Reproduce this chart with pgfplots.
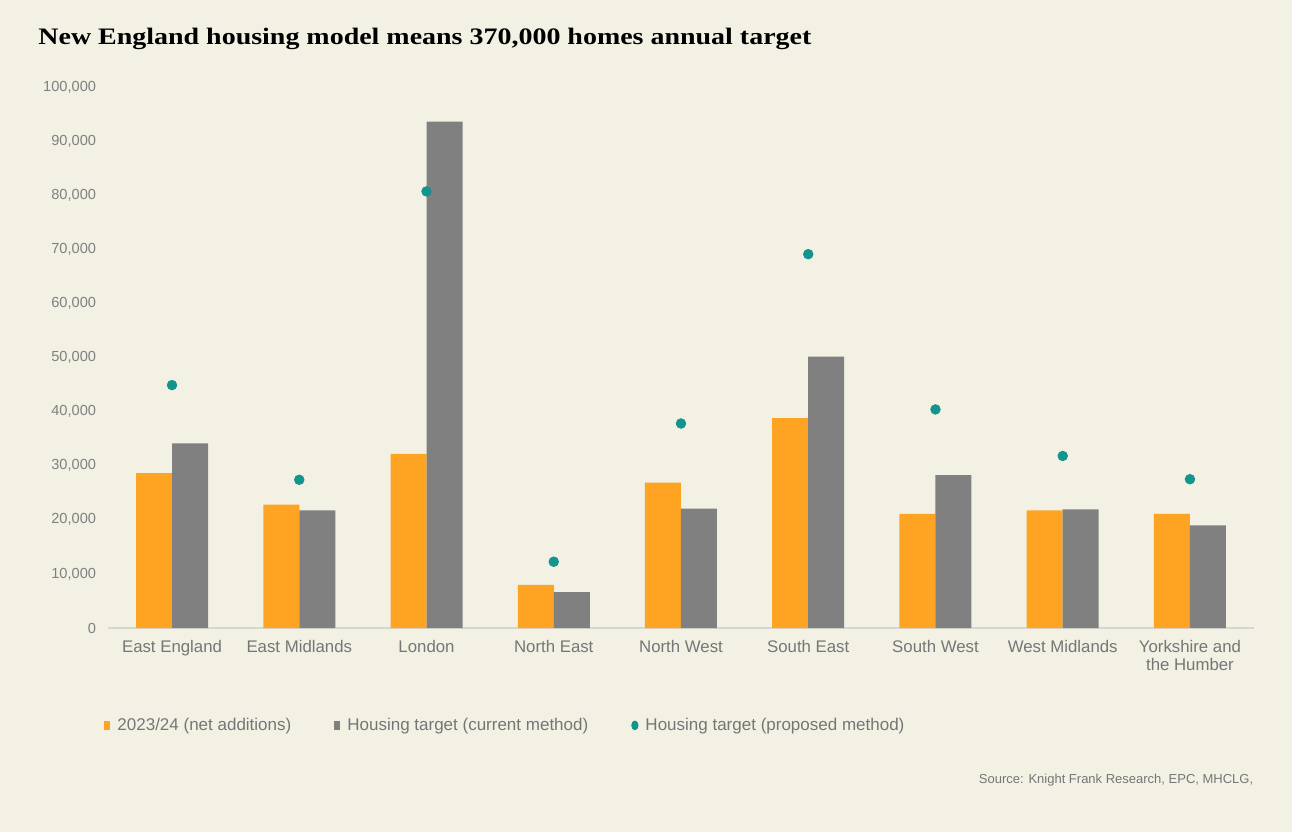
\documentclass[border=0pt]{standalone}
\usepackage{pgfplots}
\pgfplotsset{compat=1.18}
\usepackage{fontspec}
\setmainfont{Liberation Sans}
\newfontfamily\titlefont{Liberation Serif}
\definecolor{bg}{RGB}{242,241,228}
\definecolor{barorange}{RGB}{255,163,35}
\definecolor{bargray}{RGB}{128,128,128}
\definecolor{dotteal}{RGB}{19,148,141}
\definecolor{txtgray}{RGB}{118,118,118}
\definecolor{ticgray}{RGB}{128,128,128}
\definecolor{axgray}{RGB}{215,215,210}
\begin{document}
\begin{tikzpicture}
\fill[bg] (0,0) rectangle (646pt,416pt);
\node[anchor=base west, inner sep=0pt] at (19pt,393.5pt) {\resizebox{386.5pt}{\height}{\titlefont\bfseries\fontsize{11.8}{13}\selectfont New England housing model means 370,000 homes annual target}};
\begin{axis}[
  at={(54.2pt,102pt)}, anchor=south west,
  scale only axis, width=572.6pt, height=270.5pt,
  xmin=-0.5, xmax=8.5, ymin=0, ymax=100000,
  axis x line*=bottom, axis y line*=left,
  x axis line style={draw=axgray, line width=0.6pt, -},
  y axis line style={draw=none, -},
  major tick length=0pt,
  xtick={0,...,8},
  xticklabels={East England, East Midlands, London, North East, North West, South East, South West, West Midlands, {Yorkshire and\\the Humber}},
  xticklabel style={font=\fontsize{8.4}{9}\selectfont, text=txtgray, align=center, inner sep=0pt, anchor=north, yshift=-6pt},
  ytick={0,10000,...,100000},
  yticklabel={\pgfmathprintnumber[fixed, precision=0, 1000 sep={,}, assume math mode=true]{\tick}},
  yticklabel style={font=\fontsize{7.3}{8}\selectfont, text=ticgray, inner sep=0pt, anchor=east, xshift=-6pt},
  scaled y ticks=false,
  legend columns=3,
  legend style={at={(-0.0038,-0.18)}, anchor=west, draw=none, fill=none,
    font=\fontsize{8.5}{10}\selectfont, text=txtgray, inner sep=0pt,
    /tikz/every even column/.append style={column sep=19.5pt},
    /tikz/every odd column/.append style={column sep=1.5pt}},
  legend cell align=left,
]
\addplot[ybar, bar width=18pt, bar shift=-9pt, fill=barorange, draw=none,
  legend image code/.code={\fill[barorange] (0pt,-2.25pt) rectangle (3pt,2.25pt);}]
  coordinates {(0,28650) (1,22800) (2,32200) (3,7950) (4,26850) (5,38800) (6,21100) (7,21750) (8,21100)};
\addlegendentry{2023/24 (net additions)}
\addplot[ybar, bar width=18pt, bar shift=9pt, fill=bargray, draw=none,
  legend image code/.code={\fill[bargray] (0pt,-2.25pt) rectangle (3pt,2.25pt);}]
  coordinates {(0,34150) (1,21750) (2,93600) (3,6650) (4,22050) (5,50150) (6,28250) (7,21950) (8,18950)};
\addlegendentry{Housing target (current method)}
\addplot[only marks, mark=*, mark size=2.4pt, color=dotteal,
  legend image code/.code={\fill[dotteal] (1.5pt,0pt) ellipse (1.6pt and 2.2pt);}]
  coordinates {(0,44900) (1,27400) (2,80700) (3,12250) (4,37800) (5,69100) (6,40400) (7,31800) (8,27500)};
\addlegendentry{Housing target (proposed method)}
\end{axis}
\node[anchor=base east, inner sep=0pt, text=txtgray, font=\fontsize{6.5}{8}\selectfont] at (626.8pt,24.5pt) {Source: Knight Frank Research, EPC, MHCLG,};
\pgfresetboundingbox
\path[use as bounding box] (0,0) rectangle (646pt,416pt);
\end{tikzpicture}
\end{document}
